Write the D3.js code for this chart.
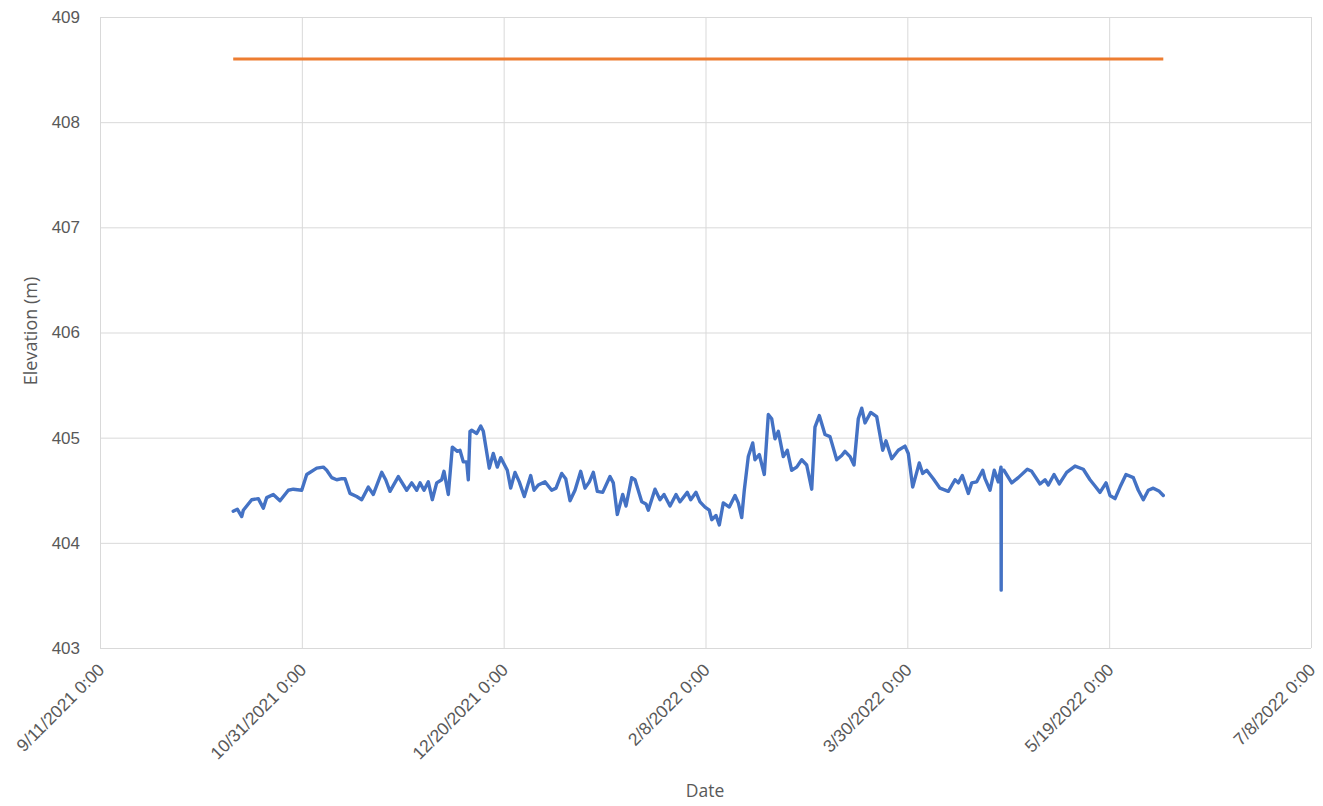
<!DOCTYPE html>
<html>
<head>
<meta charset="utf-8">
<script src="https://cdn.jsdelivr.net/npm/d3@7"></script>
<style>
  html, body { margin: 0; padding: 0; background: #fff; }
  svg { display: block; font-family: "Open Sans", Lato, "Liberation Sans", sans-serif; }
  .grid line { stroke: #d9d9d9; stroke-width: 1; }
  .grid path { display: none; }
  .tick text { fill: #595959; }
</style>
</head>
<body>
<svg id="chart" width="1323" height="806"></svg>
<script>
// Logger record: elapsed days since the first reading, and water elevation (m)
const seriesStart = "2021-10-14T00:00:00Z";
const elapsedDays = [
  0, 1.02, 2.11, 2.5, 4.58, 6.22, 7.46, 8.3, 9.93, 11.59, 13.65, 14.89, 16.97, 18.21, 20.69, 22.32,
  23.16, 24.4, 25.64, 26.88, 27.7, 28.93, 30.59, 31.83, 33.47, 34.71, 36.79, 37.78, 38.84, 40.9,
  42.98, 44.22, 45.46, 46.28, 47.27, 48.33, 49.32, 50.41, 51.65, 52.22, 53.29, 54.28, 55.52, 56.18,
  57.0, 57.84, 58.24, 58.66, 59.08, 60.32, 61.31, 61.96, 63.44, 64.43, 65.42, 66.27, 67.9, 68.74,
  69.81, 70.87, 72.11, 73.7, 74.52, 75.58, 77.24, 78.9, 79.97, 81.38, 82.37, 83.44, 84.67, 86.09,
  87.15, 88.22, 89.21, 90.2, 91.53, 93.34, 94.16, 95.15, 96.49, 97.31, 98.72, 99.54, 101.2, 102.26,
  102.83, 104.49, 105.73, 106.72, 108.21, 109.7, 110.69, 112.49, 113.34, 114.65, 115.64, 116.88,
  117.94, 118.54, 119.6, 120.42, 121.41, 122.9, 124.31, 125.13, 125.97, 126.61, 127.6, 128.7,
  129.26, 130.33, 131.57, 132.56, 133.4, 134.22, 135.04, 136.27, 137.26, 138.35, 139.59, 140.83,
  142.07, 143.31, 144.12, 145.19, 146.6, 147.84, 149.5, 150.74, 151.56, 152.8, 153.79, 154.85,
  155.7, 156.51, 157.93, 159.41, 160.9, 161.71, 163.13, 164.76, 166.42, 167.24, 168.33, 169.96,
  170.8, 171.8, 173.43, 175.09, 177.15, 178.81, 179.63, 180.62, 182.11, 182.95, 184.19, 185.68,
  186.25, 187.49, 188.54, 189.53, 190.2, 190.25, 190.3, 190.95, 192.86, 194.49, 196.72, 197.81,
  199.87, 201.11, 201.93, 203.34, 204.65, 206.48, 208.54, 210.59, 212.25, 213.49, 214.73, 216.22,
  217.21, 218.45, 219.69, 221.17, 222.98, 224.22, 225.46, 226.7, 227.93, 229.42, 230.41
];
const waterElevation = [
  404.30, 404.32, 404.25, 404.31, 404.41, 404.42, 404.33, 404.43, 404.46, 404.40, 404.50, 404.51, 404.50, 404.65, 404.71, 404.72,
  404.69, 404.62, 404.60, 404.61, 404.61, 404.47, 404.44, 404.41, 404.53, 404.46, 404.67, 404.60, 404.49, 404.63,
  404.50, 404.57, 404.50, 404.57, 404.50, 404.58, 404.41, 404.57, 404.60, 404.68, 404.46, 404.91, 404.87, 404.88,
  404.77, 404.77, 404.60, 405.06, 405.07, 405.04, 405.11, 405.06, 404.71, 404.85, 404.72, 404.81, 404.69, 404.52,
  404.67, 404.58, 404.44, 404.64, 404.50, 404.55, 404.58, 404.50, 404.52, 404.66, 404.61, 404.40, 404.50, 404.68,
  404.52, 404.58, 404.67, 404.49, 404.48, 404.63, 404.57, 404.27, 404.46, 404.35, 404.62, 404.60, 404.39, 404.37,
  404.31, 404.51, 404.41, 404.46, 404.35, 404.46, 404.39, 404.48, 404.41, 404.48, 404.39, 404.34,
  404.31, 404.22, 404.26, 404.17, 404.38, 404.34, 404.45, 404.38, 404.24, 404.50, 404.82, 404.95,
  404.79, 404.84, 404.65, 405.22, 405.18, 404.99, 405.06, 404.82, 404.88, 404.69, 404.72, 404.79,
  404.74, 404.51, 405.10, 405.21, 405.03, 405.01, 404.79, 404.83, 404.87, 404.82, 404.74, 405.18,
  405.28, 405.14, 405.24, 405.20, 404.88, 404.97, 404.80, 404.88, 404.92, 404.85, 404.53, 404.76,
  404.66, 404.69, 404.61, 404.52, 404.49, 404.60, 404.57, 404.64, 404.47, 404.57, 404.58, 404.69,
  404.61, 404.50, 404.69, 404.58, 404.72, 403.55, 404.69, 404.69, 404.57, 404.62, 404.70, 404.68,
  404.56, 404.60, 404.55, 404.65, 404.56, 404.67, 404.73, 404.70, 404.60, 404.54, 404.48, 404.57,
  404.45, 404.42, 404.53, 404.65, 404.62, 404.50, 404.41, 404.50, 404.52, 404.49, 404.45
];
// Reference level held constant over the same record
const referenceElevation = 408.60;

const yTicks = [403, 404, 405, 406, 407, 408, 409];
const xTickDates = ["2021-09-11", "2021-10-31", "2021-12-20", "2022-02-08", "2022-03-30", "2022-05-19", "2022-07-08"];
const xTitle = "Date";
const yTitle = "Elevation (m)";

const svg = d3.select("#chart");
const margin = { left: 100, top: 17, right: 12, bottom: 158 };
const W = 1323, H = 806;
const innerW = W - margin.left - margin.right;
const innerH = H - margin.top - margin.bottom;

const DAY = 86400000;
const t0 = new Date(seriesStart).getTime();
const elevationData = elapsedDays.map((d, i) => ({ t: new Date(t0 + d * DAY), v: waterElevation[i] }));
const referenceData = [
  { t: new Date(t0), v: referenceElevation },
  { t: new Date(t0 + elapsedDays[elapsedDays.length - 1] * DAY), v: referenceElevation }
];

const tickDates = xTickDates.map(s => new Date(s + "T00:00:00Z"));
const x = d3.scaleUtc().domain([tickDates[0], tickDates[tickDates.length - 1]]).range([0, innerW]);
const y = d3.scaleLinear().domain([403, 409]).range([innerH, 0]);

const g = svg.append("g").attr("transform", `translate(${margin.left},${margin.top})`);

const fmtDate = d3.utcFormat("%-m/%-d/%Y");

// vertical gridlines + date labels
const xAxis = g.append("g")
  .attr("class", "grid")
  .attr("transform", `translate(0,${innerH})`)
  .call(d3.axisBottom(x).tickValues(tickDates).tickSize(-innerH).tickFormat(d => fmtDate(d) + " 0:00"));
xAxis.selectAll(".tick text")
  .attr("text-anchor", "end")
  .attr("dy", null)
  .attr("y", 0)
  .style("font-size", "17.5px")
  .attr("transform", "translate(5,23) rotate(-45)");

// horizontal gridlines + elevation labels
const yAxis = g.append("g")
  .attr("class", "grid")
  .call(d3.axisLeft(y).tickValues(yTicks).tickSize(-innerW).tickFormat(d3.format("d")));
yAxis.selectAll(".tick text").attr("x", -20).style("font-size", "17px");

const line = d3.line().x(d => x(d.t)).y(d => y(d.v));

g.append("path")
  .datum(referenceData)
  .attr("fill", "none")
  .attr("stroke", "#ed7d31")
  .attr("stroke-width", 3)
  .attr("d", line);

g.append("path")
  .datum(elevationData)
  .attr("fill", "none")
  .attr("stroke", "#4472c4")
  .attr("stroke-width", 3.4)
  .attr("stroke-linejoin", "round")
  .attr("stroke-linecap", "round")
  .attr("d", line);

// axis titles
svg.append("text")
  .attr("x", 705)
  .attr("y", 797)
  .attr("text-anchor", "middle")
  .attr("fill", "#595959")
  .style("font-size", "17.5px")
  .text(xTitle);

svg.append("text")
  .attr("transform", `translate(37,331) rotate(-90)`)
  .attr("text-anchor", "middle")
  .attr("fill", "#595959")
  .style("font-size", "18px")
  .text(yTitle);
</script>
</body>
</html>
